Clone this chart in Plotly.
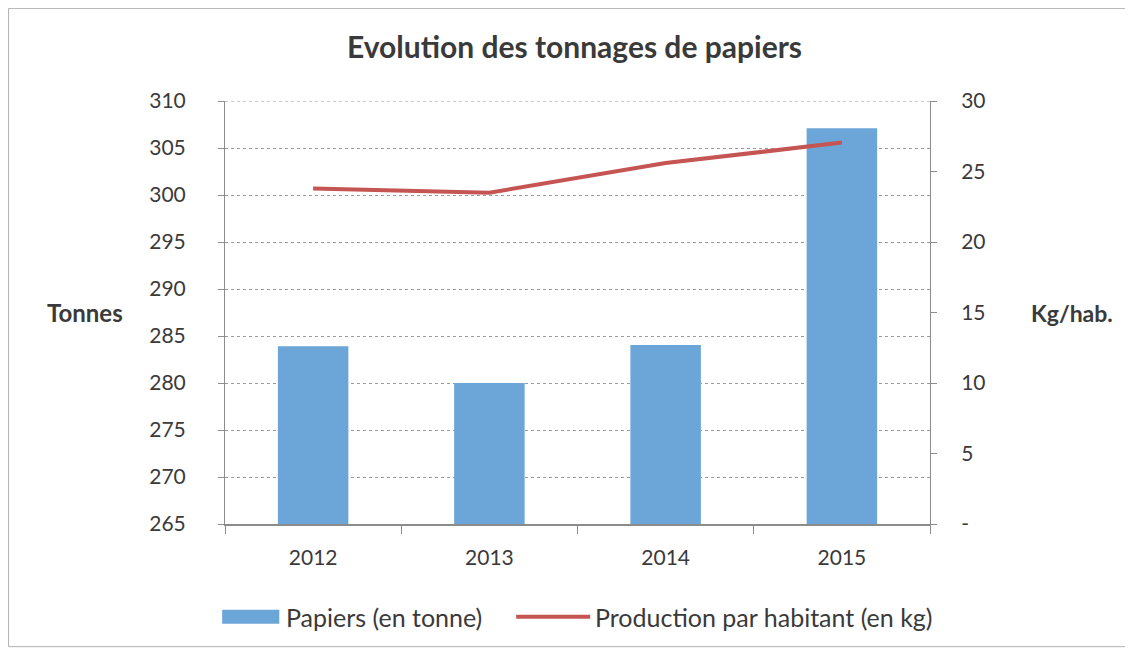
import plotly.graph_objects as go

# data
annees = ['2012', '2013', '2014', '2015']
papiers_tonnes = [283.9, 280, 284.05, 307.1]
prod_par_hab = [23.8, 23.5, 25.6, 27.05]

left_ticks = [265, 270, 275, 280, 285, 290, 295, 300, 305, 310]
right_ticks = [0, 5, 10, 15, 20, 25, 30]
right_labels = ['-', '5', '10', '15', '20', '25', '30']

bar_color = '#6CA6D8'
line_color = '#C55552'
axis_grey = '#8C8C8C'
grid_grey = '#9A9A9A'
txt = '#3A3A3A'

fig = go.Figure()
fig.add_trace(go.Bar(x=annees, y=papiers_tonnes, name='Papiers (en tonne)',
                     marker_color=bar_color, marker_line_width=0, yaxis='y', showlegend=False))
fig.add_trace(go.Scatter(x=annees, y=prod_par_hab, name='Production par habitant (en kg)',
                         mode='lines', line=dict(color=line_color, width=4), yaxis='y2',
                         showlegend=False))

fig.update_layout(
    width=1133, height=651,
    margin=dict(l=217, r=211, t=93, b=135),
    plot_bgcolor='white', paper_bgcolor='white',
    font=dict(family='Lato, Open Sans, sans-serif', size=21, color=txt),
    bargap=0.6,
    title=dict(text='<b>Evolution des tonnages de papiers</b>', x=0.5, xanchor='center',
               y=0.9386, yanchor='middle', font=dict(size=30, color=txt)),
    xaxis=dict(showline=True, linecolor=axis_grey, linewidth=1.5, ticks='outside',
               tickson='boundaries', ticklen=8, tickcolor=axis_grey, showgrid=False,
               ticklabelstandoff=14),
    yaxis=dict(range=[265, 310], tickvals=left_ticks, showline=True, linecolor=axis_grey,
               linewidth=1, ticks='outside', ticklen=6, tickcolor=axis_grey,
               ticklabelstandoff=28,
               showgrid=True, gridcolor=grid_grey, griddash='dot', gridwidth=1, zeroline=False),
    yaxis2=dict(range=[0, 30], tickvals=right_ticks, ticktext=right_labels, overlaying='y',
                side='right', showline=True, linecolor=axis_grey, linewidth=1,
                ticks='outside', ticklen=6, tickcolor=axis_grey, showgrid=False, zeroline=False,
                ticklabelstandoff=20),
    showlegend=False,
    annotations=[
        dict(text='<b>Tonnes</b>', xref='paper', yref='paper', x=-0.255, y=0.5,
             xanchor='left', yanchor='middle', showarrow=False, font=dict(size=24, color=txt)),
        dict(text='<b>Kg/hab.</b>', xref='paper', yref='paper', x=1.14, y=0.5,
             xanchor='left', yanchor='middle', showarrow=False, font=dict(size=23, color=txt)),
        # legend texts
        dict(text='Papiers (en tonne)', xref='paper', yref='paper', x=0.083, y=-0.219,
             xanchor='left', yanchor='middle', showarrow=False, font=dict(size=25, color=txt)),
        dict(text='Production par habitant (en kg)', xref='paper', yref='paper', x=0.522, y=-0.219,
             xanchor='left', yanchor='middle', showarrow=False, font=dict(size=25, color=txt)),
    ],
    shapes=[
        # outer frame of the chart
        dict(type='rect', xref='paper', yref='paper', x0=-0.307, x1=1.28, y0=-0.29, y1=1.219,
             line=dict(color='#B0B0B0', width=1)),
        # top gridline at 310
        dict(type='line', xref='paper', yref='y', x0=0, x1=1, y0=310, y1=310,
             line=dict(color=grid_grey, width=1, dash='dot')),
        # legend symbols
        dict(type='rect', xref='paper', yref='paper', x0=-0.004, x1=0.077, y0=-0.236, y1=-0.203,
             fillcolor=bar_color, line=dict(width=0)),
        dict(type='line', xref='paper', yref='paper', x0=0.413, x1=0.518, y0=-0.219, y1=-0.219,
             line=dict(color=line_color, width=4)),
    ],
)

fig.write_html('out.html')
